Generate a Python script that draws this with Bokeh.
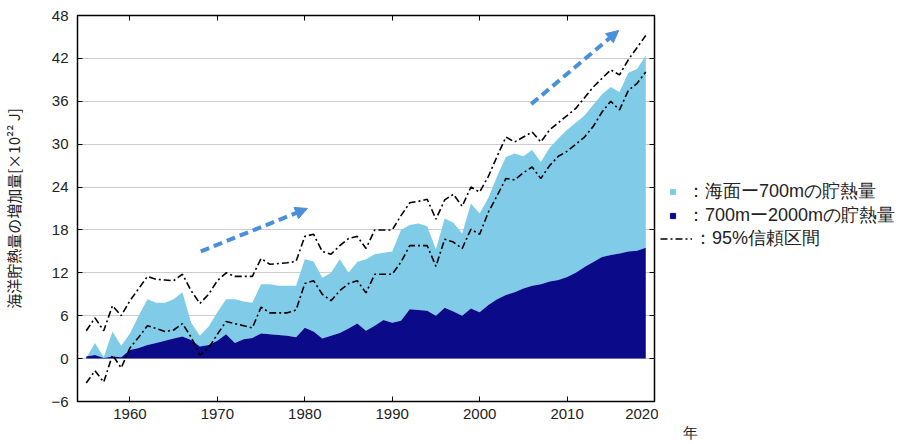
from bokeh.plotting import figure
from bokeh.models import (ColumnDataSource, FixedTicker, LinearAxis, Range1d,
                          Legend, LegendItem, Title, Arrow, NormalHead)
from bokeh.layouts import row
from bokeh.embed import file_html
from bokeh.resources import INLINE

# ---------------- data ----------------
years = list(range(1955, 2020))

# 0-2000m total heat content increase (top of light area)
total = [0.1, 2.2, 0.2, 3.8, 1.8,                                   # 1955-1959
         3.5, 6.0, 8.3, 7.8, 7.8, 8.3, 9.3, 5.0, 3.2, 4.5,          # 1960s
         6.5, 8.3, 8.3, 8.0, 7.8, 10.4, 10.4, 10.2, 10.2, 10.2,     # 1970s
         13.9, 13.6, 11.3, 12.0, 13.9, 12.0, 13.5, 13.9, 14.6, 14.8,  # 1980s
         15.0, 18.0, 18.7, 18.9, 18.5, 15.3, 19.6, 19.0, 17.5, 21.7,  # 1990s
         20.3, 22.5, 25.5, 28.2, 28.7, 28.3, 29.2, 27.5, 29.5, 30.8,  # 2000s
         32.0, 33.0, 34.0, 35.5, 37.0, 38.0, 37.3, 40.0, 40.5, 42.4]  # 2010s

# 700-2000m heat content increase (dark area)
deep = [0.3, 0.5, 0.1, 0.3, 0.2,
        1.2, 1.5, 1.9, 2.2, 2.5, 2.8, 3.1, 2.6, 1.7, 1.9,
        2.5, 3.4, 2.2, 2.7, 2.9, 3.5, 3.4, 3.3, 3.2, 3.0,
        4.3, 3.8, 2.8, 3.2, 3.6, 4.2, 4.9, 3.9, 4.6, 5.4,
        5.0, 5.3, 6.9, 6.8, 6.7, 6.0, 7.1, 6.6, 6.0, 7.0,
        6.5, 7.5, 8.3, 8.9, 9.3, 9.8, 10.2, 10.4, 10.8, 11.0,
        11.4, 12.0, 12.8, 13.5, 14.2, 14.5, 14.7, 15.0, 15.1, 15.5]

# 95% confidence interval
ci_upper = [3.9, 5.7, 3.9, 7.4, 6.0,
            8.1, 9.8, 11.5, 11.1, 11.0, 10.9, 11.8, 9.5, 7.7, 9.0,
            10.9, 12.0, 11.5, 11.5, 11.5, 14.0, 13.2, 13.3, 13.4, 13.6,
            17.1, 17.4, 15.0, 14.6, 15.8, 16.8, 17.1, 15.4, 18.0, 18.0,
            18.0, 20.0, 21.8, 22.0, 22.3, 19.5, 22.2, 23.0, 21.3, 24.0,
            23.3, 25.5, 28.3, 31.0, 30.3, 31.0, 31.7, 30.3, 32.0, 33.0,
            34.0, 35.0, 36.5, 38.0, 39.2, 40.4, 39.7, 41.8, 43.5, 45.2]
ci_lower = [-3.4, -1.7, -3.3, 0.5, -1.3,
            1.5, 3.0, 4.6, 4.2, 3.8, 4.0, 4.9, 3.0, 0.5, 1.5,
            3.4, 5.2, 4.9, 4.6, 4.3, 7.2, 6.4, 6.4, 6.4, 6.8,
            10.5, 10.9, 9.0, 8.1, 9.5, 10.5, 10.9, 9.2, 11.8, 11.8,
            11.8, 13.5, 15.8, 15.8, 15.8, 12.9, 16.7, 16.3, 15.4, 18.1,
            17.4, 20.5, 22.8, 25.2, 25.0, 26.0, 26.8, 25.2, 27.0, 28.3,
            29.0, 30.0, 31.0, 32.5, 34.5, 36.0, 34.8, 37.5, 38.5, 40.1]

x_ticks = [1960, 1970, 1980, 1990, 2000, 2010, 2020]
y_ticks = [-6, 0, 6, 12, 18, 24, 30, 36, 42, 48]

# trend arrows (annotation end points, data units)
arrow_x0 = [1968.1, 2005.9]
arrow_y0 = [15.0, 35.6]
arrow_x1 = [1980.3, 2015.9]
arrow_y1 = [21.0, 45.9]

label_upper = "：海面ー700mの貯熱量"
label_deep = "：700mー2000mの貯熱量"
label_ci = "：95%信頼区間"
y_title = "海洋貯熱量の増加量[×10²² J]"
x_unit = "年"

LIGHT = "#7fcbe8"
DARK = "#0b0b8a"
ARROW = "#4a8fd8"
TXT = "#222222"
JP = "Noto Sans CJK JP"
NUM = "Liberation Sans"
DASHDOT = "7 3 2 3"

W_MAIN, H_ALL, W_SIDE = 658, 443, 243

src = ColumnDataSource(dict(year=years, total=total, deep=deep,
                            up=ci_upper, lo=ci_lower,
                            zero=[0] * len(years)))

p = figure(width=W_MAIN, height=H_ALL,
           x_range=Range1d(1954, 2020), y_range=Range1d(-6, 48),
           output_backend="svg", toolbar_location=None,
           min_border_left=75, min_border_top=15, min_border_bottom=41,
           min_border_right=4, background_fill_color="white",
           border_fill_color="white")

p.varea(x="year", y1="deep", y2="total", source=src, fill_color=LIGHT)
p.varea(x="year", y1="zero", y2="deep", source=src, fill_color=DARK)
p.line(x="year", y="up", source=src, line_color="black",
       line_width=1.6, line_dash=DASHDOT)
p.line(x="year", y="lo", source=src, line_color="black",
       line_width=1.6, line_dash=DASHDOT)

for xs, ys, xe, ye in zip(arrow_x0, arrow_y0, arrow_x1, arrow_y1):
    p.add_layout(Arrow(end=NormalHead(size=12, fill_color=ARROW,
                                      line_color=ARROW, line_width=1),
                       x_start=xs, y_start=ys, x_end=xe, y_end=ye,
                       line_color=ARROW, line_width=4, line_dash="9 5"))

# axes
p.xaxis.ticker = FixedTicker(ticks=x_ticks)
p.yaxis.ticker = FixedTicker(ticks=y_ticks)
for ax in (p.xaxis[0], p.yaxis[0]):
    ax.axis_line_color = None
    ax.major_tick_in = 5
    ax.major_tick_out = 0
    ax.minor_tick_in = 0
    ax.minor_tick_out = 0
    ax.major_tick_line_color = "black"
    ax.major_label_text_font = NUM
    ax.major_label_text_font_size = "15px"
    ax.major_label_text_color = TXT
p.yaxis.major_label_standoff = 9
p.xaxis.major_label_standoff = 7
p.yaxis.axis_label = y_title
p.yaxis.axis_label_text_font = JP
p.yaxis.axis_label_text_font_style = "normal"
p.yaxis.axis_label_text_font_size = "15px"
p.yaxis.axis_label_text_color = TXT
p.yaxis.axis_label_standoff = 24

for loc, tick in (("right", y_ticks), ("above", x_ticks)):
    ax = LinearAxis(ticker=FixedTicker(ticks=tick), axis_line_color=None,
                    major_tick_in=5, major_tick_out=0, minor_tick_in=0,
                    minor_tick_out=0, major_label_standoff=0,
                    major_label_overrides={t: "" for t in tick},
                    major_label_text_font_size="1px",
                    axis_label_standoff=0,
                    major_tick_line_color="black")
    p.add_layout(ax, loc)

p.xgrid.grid_line_color = None
p.ygrid.ticker = FixedTicker(ticks=y_ticks)
p.ygrid.grid_line_color = "#cccccc"
p.ygrid.grid_line_width = 1

p.outline_line_color = "black"
p.outline_line_width = 1.5
p.outline_line_alpha = 1

# ---------------- side panel: legend + unit ----------------
s = figure(width=W_SIDE, height=H_ALL, x_range=Range1d(0, W_SIDE),
           y_range=Range1d(0, H_ALL), output_backend="svg",
           toolbar_location=None, min_border=0, x_axis_type=None,
           y_axis_type=None, outline_line_color=None,
           background_fill_color="white", border_fill_color="white")
s.grid.visible = False

nan = float("nan")
sq_light = s.scatter(x=[nan], y=[nan], marker="square", size=13,
                     fill_color=LIGHT, line_color=LIGHT)
sq_dark = s.scatter(x=[nan], y=[nan], marker="square", size=13,
                    fill_color=DARK, line_color=DARK)
ci_key = s.line(x=[nan, nan], y=[nan, nan], line_color="black",
                line_width=1.6, line_dash=DASHDOT)

common = dict(glyph_height=23, label_height=23, spacing=0, padding=0,
              margin=0, border_line_color=None, background_fill_alpha=0,
              label_text_font=NUM, label_text_font_size="18px",
              label_text_color=TXT)
legA = Legend(items=[LegendItem(label=label_upper, renderers=[sq_light]),
                     LegendItem(label=label_deep, renderers=[sq_dark])],
              location=(8, 174), glyph_width=13, label_standoff=8, **common)
legB = Legend(items=[LegendItem(label=label_ci, renderers=[ci_key])],
              location=(2, 151), glyph_width=32, label_standoff=2, **common)
s.add_layout(legA, "center")
s.add_layout(legB, "center")

s.add_layout(Title(text="\u3000\n" + x_unit, align="left", offset=24,
                   vertical_align="bottom", standoff=6, text_font=NUM,
                   text_font_size="15px", text_font_style="normal",
                   text_color=TXT), "below")

layout = row(p, s)
open("out.html", "w").write(file_html(layout, INLINE))
